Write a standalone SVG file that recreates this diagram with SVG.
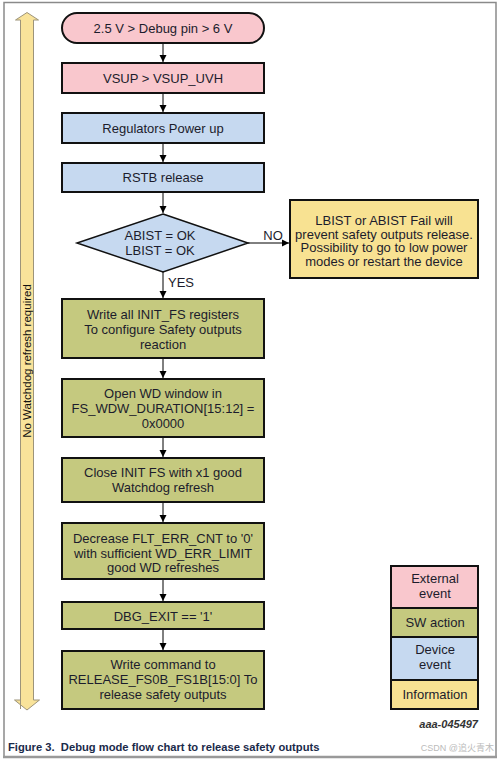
<svg xmlns="http://www.w3.org/2000/svg" width="498" height="760" viewBox="0 0 498 760">
<defs>
<marker id="ah" markerWidth="8" markerHeight="8" refX="7" refY="4" orient="auto" markerUnits="userSpaceOnUse">
<path d="M0,0.5 L7,4 L0,7.5 Z" fill="#000"/>
</marker>
<style>
.t{font-family:"Liberation Sans",Arial,sans-serif;font-size:13px;fill:#1c1c2c;text-anchor:middle}
.box{stroke:#111;stroke-width:2}
.ext{fill:#F9C7CD}
.dev{fill:#C6D9F0}
.sw{fill:#C5C97F}
.info{fill:#F8E292}
.c{stroke:#000;stroke-width:1;fill:none;marker-end:url(#ah)}
</style>
</defs>
<rect x="0" y="0" width="498" height="760" fill="#fff"/>
<path d="M4,757 L4,2.5 L496,2.5 L496,757" fill="none" stroke="#8a8a8a" stroke-width="1.5"/>
<line x1="3" y1="757" x2="497" y2="757" stroke="#999" stroke-width="2.5"/>

<g id="side-arrow">
<path d="M20.5,709 L20.5,700 L14.5,700 L27,710 L39.5,700 L33.5,700 L33.5,20 L38.5,20 L27,12.5 L15.5,20 L20.5,20 Z" fill="#F9E39A" stroke="#9d947a" stroke-width="1"/>
<text class="t" transform="translate(31,361) rotate(-90)" style="font-size:11.5px;fill:#111">No Watchdog refresh required</text>
</g>

<g id="n1"><rect class="box ext" x="62" y="13" width="202" height="30" rx="15"/><text class="t" x="163" y="32.5">2.5 V &gt; Debug pin &gt; 6 V</text></g>
<g id="n2"><rect class="box ext" x="62" y="63" width="202" height="30"/><text class="t" x="163" y="82.5">VSUP &gt; VSUP_UVH</text></g>
<g id="n3"><rect class="box dev" x="62" y="113" width="202" height="30"/><text class="t" x="163" y="132.5">Regulators Power up</text></g>
<g id="n4"><rect class="box dev" x="62" y="163" width="202" height="29"/><text class="t" x="163" y="182">RSTB release</text></g>
<g id="d1"><polygon class="dev" points="163,214 248,243 163,272 77,243" stroke="#111" stroke-width="1.5"/><text class="t" x="160" y="240">ABIST = OK</text><text class="t" x="160" y="255">LBIST = OK</text></g>
<g id="info1"><rect class="box info" x="290" y="200" width="188" height="78"/>
<text class="t" x="384" y="225">LBIST or ABIST Fail will</text>
<text class="t" x="384" y="238.5">prevent safety outputs release.</text>
<text class="t" x="384" y="252">Possibility to go to low power</text>
<text class="t" x="384" y="265.5">modes or restart the device</text></g>
<g id="n5"><rect class="box sw" x="62" y="299" width="202" height="59"/>
<text class="t" x="163" y="319">Write all INIT_FS registers</text>
<text class="t" x="163" y="334">To configure Safety outputs</text>
<text class="t" x="163" y="349">reaction</text></g>
<g id="n6"><rect class="box sw" x="62" y="379" width="202" height="58"/>
<text class="t" x="163" y="398">Open WD window in</text>
<text class="t" x="163" y="413">FS_WDW_DURATION[15:12] =</text>
<text class="t" x="163" y="428">0x0000</text></g>
<g id="n7"><rect class="box sw" x="62" y="458" width="202" height="44"/>
<text class="t" x="163" y="477">Close INIT FS with x1 good</text>
<text class="t" x="163" y="492">Watchdog refresh</text></g>
<g id="n8"><rect class="box sw" x="62" y="523" width="202" height="56"/>
<text class="t" x="163" y="543">Decrease FLT_ERR_CNT to '0'</text>
<text class="t" x="163" y="557.5">with sufficient WD_ERR_LIMIT</text>
<text class="t" x="163" y="572">good WD refreshes</text></g>
<g id="n9"><rect class="box sw" x="62" y="602" width="202" height="27"/>
<text class="t" x="163" y="620.5">DBG_EXIT == '1'</text></g>
<g id="n10"><rect class="box sw" x="62" y="651" width="202" height="58"/>
<text class="t" x="163" y="669">Write command to</text>
<text class="t" x="163" y="684">RELEASE_FS0B_FS1B[15:0] To</text>
<text class="t" x="163" y="699">release safety outputs</text></g>

<g id="connectors">
<line class="c" x1="163" y1="44" x2="163" y2="62"/>
<line class="c" x1="163" y1="94" x2="163" y2="112"/>
<line class="c" x1="163" y1="144" x2="163" y2="162"/>
<line class="c" x1="163" y1="193" x2="163" y2="213"/>
<line class="c" x1="248" y1="243" x2="289" y2="243"/>
<line class="c" x1="163" y1="272" x2="163" y2="298"/>
<line class="c" x1="163" y1="359" x2="163" y2="378"/>
<line class="c" x1="163" y1="438" x2="163" y2="457"/>
<line class="c" x1="163" y1="503" x2="163" y2="522"/>
<line class="c" x1="163" y1="580" x2="163" y2="601"/>
<line class="c" x1="163" y1="630" x2="163" y2="650"/>
<text class="t" x="273" y="240">NO</text>
<text class="t" x="181" y="287">YES</text>
</g>

<g id="legend">
<rect class="box ext" x="391" y="566" width="87" height="42"/>
<text class="t" x="435" y="583">External</text><text class="t" x="435" y="597.5">event</text>
<rect class="box sw" x="391" y="608" width="87" height="29"/>
<text class="t" x="435" y="627">SW action</text>
<rect class="box dev" x="391" y="637" width="87" height="43"/>
<text class="t" x="435" y="654">Device</text><text class="t" x="435" y="669">event</text>
<rect class="box info" x="391" y="680" width="87" height="29"/>
<text class="t" x="435" y="699">Information</text>
</g>

<text x="478" y="728" style="font-family:'Liberation Sans',Arial,sans-serif;font-size:11px;font-weight:bold;font-style:italic;fill:#333;text-anchor:end">aaa-045497</text>
<text x="8" y="751" xml:space="preserve" style="font-family:'Liberation Sans',Arial,sans-serif;font-size:11.2px;font-weight:bold;fill:#1a2a4a">Figure 3.  Debug mode flow chart to release safety outputs</text>
<text x="494" y="751" style="font-family:'Liberation Sans','Noto Sans CJK SC',sans-serif;font-size:9px;fill:#bbb;text-anchor:end">CSDN @追火青木</text>
</svg>
